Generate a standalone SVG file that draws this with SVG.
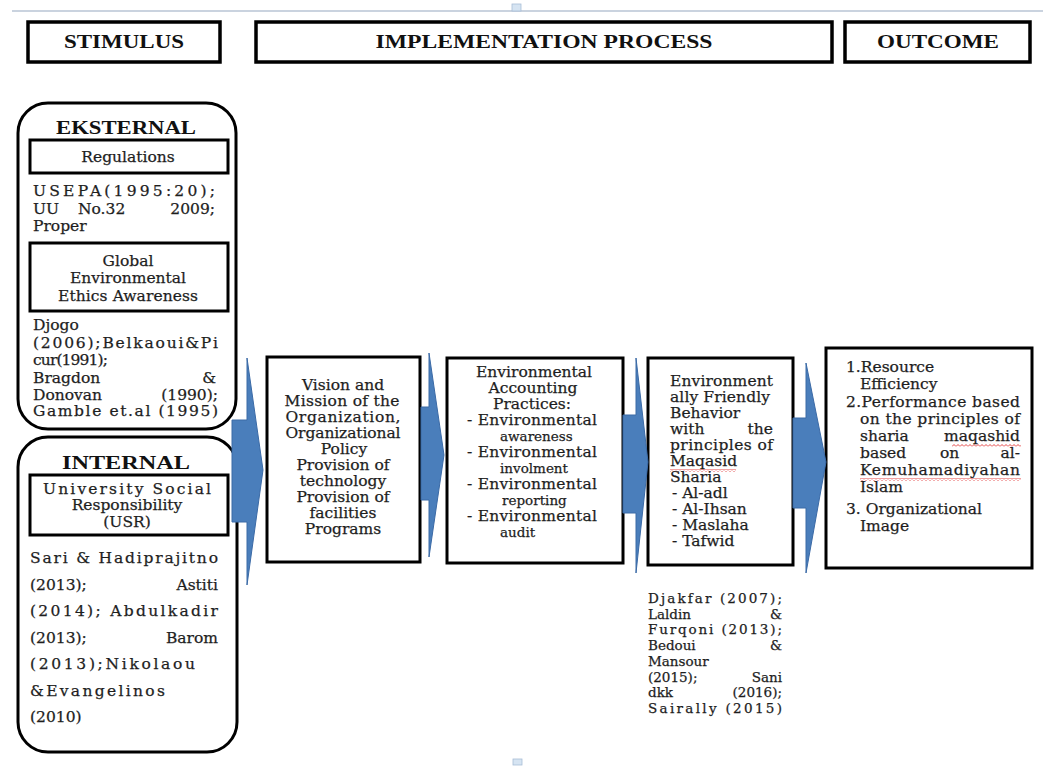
<svg xmlns="http://www.w3.org/2000/svg" width="1043" height="766" viewBox="0 0 1043 766">
<style>
.bg{fill:#ffffff}
.hbox{fill:#ffffff;stroke:#000;stroke-width:3.5}
.obox{fill:#ffffff;stroke:#000;stroke-width:3}
.ibox{fill:#ffffff;stroke:#000;stroke-width:3}
.h{font-family:"Liberation Serif","Times New Roman",serif;font-weight:bold;font-size:18px;fill:#111}
.t{font-family:"DejaVu Serif","Liberation Serif",serif;font-size:15.5px;fill:#1e1e1e;stroke:#1e1e1e;stroke-width:0.25}
.s{font-size:13.5px}
.r{font-size:13.5px}
.m{text-anchor:middle}
.e{text-anchor:end}
.arr{fill:#4a7ebb;stroke:#3b6aa6;stroke-width:1}
</style>
<defs>
<pattern id="squig" width="4" height="3" patternUnits="userSpaceOnUse">
<path d="M0,2.5 L2,0.5 L4,2.5" fill="none" stroke="#e03030" stroke-width="0.9"/>
</pattern>
</defs>
<rect class="bg" x="0" y="0" width="1043" height="766"/>
<line x1="12" y1="11" x2="1043" y2="11" stroke="#b8c4d4" stroke-width="1.5"/>
<rect x="512" y="4" width="9" height="7" fill="#d6e4f2" stroke="#a9bdd6" stroke-width="0.8"/>
<rect x="513" y="759" width="9" height="6" fill="#d6e4f2" stroke="#a9bdd6" stroke-width="0.8"/>

<g id="hdr-stimulus">
<rect class="hbox" x="28" y="22" width="192" height="40"/>
<text class="h m" x="124" y="48" textLength="120" lengthAdjust="spacingAndGlyphs">STIMULUS</text>
</g>
<g id="hdr-process">
<rect class="hbox" x="256" y="22" width="576" height="40"/>
<text class="h m" x="544" y="48" textLength="337" lengthAdjust="spacingAndGlyphs">IMPLEMENTATION  PROCESS</text>
</g>
<g id="hdr-outcome">
<rect class="hbox" x="845" y="22" width="185" height="40"/>
<text class="h m" x="938" y="48" textLength="122" lengthAdjust="spacingAndGlyphs">OUTCOME</text>
</g>

<g id="eksternal">
<rect class="obox" x="18" y="103" width="218" height="326" rx="30"/>
<text class="h m" x="126" y="134" textLength="140" lengthAdjust="spacingAndGlyphs">EKSTERNAL</text>
<rect class="ibox" x="30" y="140" width="198" height="33"/>
<text class="t m" x="128" y="162" font-size="12.5">Regulations</text>
<text class="t" x="33" y="196" textLength="182">USEPA(1995:20);</text>
<text class="t" x="33" y="214">UU</text><text class="t" x="78" y="214">No.32</text><text class="t e" x="215" y="214">2009;</text>
<text class="t" x="33" y="231">Proper</text>
<rect class="ibox" x="30" y="243" width="198" height="68"/>
<text class="t m" x="128" y="266">Global</text>
<text class="t m" x="128" y="283">Environmental</text>
<text class="t m" x="128" y="301" textLength="140">Ethics Awareness</text>
<text class="t" x="33" y="330">Djogo</text>
<text class="t" x="33" y="348" textLength="185">(2006);Belkaoui&amp;Pi</text>
<text class="t" x="33" y="365" textLength="75">cur(1991);</text>
<text class="t" x="33" y="383">Bragdon</text><text class="t e" x="216" y="383">&amp;</text>
<text class="t" x="33" y="400">Donovan</text><text class="t e" x="218" y="400">(1990);</text>
<text class="t" x="33" y="416" textLength="185">Gamble et.al (1995)</text>
</g>

<g id="internal">
<rect class="obox" x="18" y="437" width="219" height="315" rx="30"/>
<text class="h m" x="126" y="469" textLength="128" lengthAdjust="spacingAndGlyphs">INTERNAL</text>
<rect class="ibox" x="30" y="475" width="198" height="60"/>
<text class="t m" x="127" y="494" textLength="168">University Social</text>
<text class="t m" x="127" y="510">Responsibility</text>
<text class="t m" x="127" y="527">(USR)</text>
<text class="t" x="30" y="563" textLength="188">Sari &amp; Hadiprajitno</text>
<text class="t" x="30" y="590">(2013);</text><text class="t e" x="218" y="590">Astiti</text>
<text class="t" x="30" y="616" textLength="188">(2014); Abdulkadir</text>
<text class="t" x="30" y="643">(2013);</text><text class="t e" x="218" y="643">Barom</text>
<text class="t" x="30" y="669" textLength="165">(2013);Nikolaou</text>
<text class="t" x="30" y="696" textLength="135">&amp;Evangelinos</text>
<text class="t" x="30" y="722">(2010)</text>
</g>

<g id="vision">
<rect class="ibox" x="267" y="357" width="153" height="205"/>
<text class="t m" x="343" y="390">Vision and</text>
<text class="t m" x="342" y="406" textLength="115">Mission of the</text>
<text class="t m" x="343" y="422" textLength="115">Organization,</text>
<text class="t m" x="343" y="438" textLength="115">Organizational</text>
<text class="t m" x="344" y="454">Policy</text>
<text class="t m" x="343" y="470">Provision of</text>
<text class="t m" x="343" y="486">technology</text>
<text class="t m" x="343" y="502">Provision of</text>
<text class="t m" x="343" y="518">facilities</text>
<text class="t m" x="343" y="534">Programs</text>
</g>

<g id="env-accounting">
<rect class="ibox" x="447" y="358" width="176" height="205"/>
<text class="t m" x="534" y="377">Environmental</text>
<text class="t m" x="533" y="393">Accounting</text>
<text class="t m" x="532" y="409">Practices:</text>
<text class="t" x="467" y="425" textLength="130">- Environmental</text>
<text class="t s" x="500" y="441">awareness</text>
<text class="t" x="467" y="457" textLength="130">- Environmental</text>
<text class="t s" x="500" y="473">involment</text>
<text class="t" x="467" y="489" textLength="130">- Environmental</text>
<text class="t s" x="502" y="505">reporting</text>
<text class="t" x="467" y="521" textLength="130">- Environmental</text>
<text class="t s" x="500" y="537">audit</text>
</g>

<g id="maqasid">
<rect class="ibox" x="648" y="358" width="145" height="207"/>
<text class="t" x="670" y="386" textLength="103">Environment</text>
<text class="t" x="670" y="402" textLength="100">ally Friendly</text>
<text class="t" x="670" y="418">Behavior</text>
<text class="t" x="670" y="434">with</text><text class="t e" x="773" y="434">the</text>
<text class="t" x="670" y="450" textLength="103">principles of</text>
<text class="t" x="670" y="466">Maqasid</text>
<rect x="670" y="469" width="66" height="3" fill="url(#squig)"/>
<text class="t" x="670" y="482">Sharia</text>
<text class="t" x="672" y="498">- Al-adl</text>
<text class="t" x="672" y="514">- Al-Ihsan</text>
<text class="t" x="672" y="530">- Maslaha</text>
<text class="t" x="672" y="546">- Tafwid</text>
</g>

<g id="maqasid-refs">
<text class="t r" x="648" y="603" textLength="134">Djakfar (2007);</text>
<text class="t r" x="648" y="619">Laldin</text><text class="t r e" x="782" y="619">&amp;</text>
<text class="t r" x="648" y="634" textLength="134">Furqoni (2013);</text>
<text class="t r" x="648" y="650">Bedoui</text><text class="t r e" x="782" y="650">&amp;</text>
<text class="t r" x="648" y="666">Mansour</text>
<text class="t r" x="648" y="682">(2015);</text><text class="t r e" x="782" y="682">Sani</text>
<text class="t r" x="648" y="697">dkk</text><text class="t r e" x="782" y="697">(2016);</text>
<text class="t r" x="648" y="713" textLength="134">Sairally (2015)</text>
</g>

<g id="outcome">
<rect class="ibox" x="826" y="348" width="206" height="220"/>
<text class="t" x="846" y="372">1.Resource</text>
<text class="t" x="860" y="389">Efficiency</text>
<text class="t" x="846" y="407" textLength="174">2.Performance based</text>
<text class="t" x="860" y="424" textLength="160">on the principles of</text>
<text class="t" x="860" y="441">sharia</text><text class="t e" x="1020" y="441">maqashid</text>
<rect x="952" y="444" width="69" height="3" fill="url(#squig)"/>
<text class="t" x="860" y="458">based</text><text class="t" x="940" y="458">on</text><text class="t e" x="1020" y="458">al-</text>
<text class="t" x="860" y="475" textLength="160">Kemuhamadiyahan</text>
<rect x="860" y="478" width="161" height="3" fill="url(#squig)"/>
<text class="t" x="860" y="492">Islam</text>
<text class="t" x="846" y="514">3. Organizational</text>
<text class="t" x="860" y="531">Image</text>
</g>

<g id="connectors">
<polygon class="arr" points="232,420 247,420 247,358 263,470 247,585 247,522 232,522"/>
<polygon class="arr" points="421,407 429,407 429,353 444,455 429,557 429,500 421,500"/>
<polygon class="arr" points="623,415 636,415 636,358 648,462 636,573 636,513 623,513"/>
<polygon class="arr" points="793,418 806,418 806,363 826,462 806,573 806,508 793,508"/>
</g>
</svg>
